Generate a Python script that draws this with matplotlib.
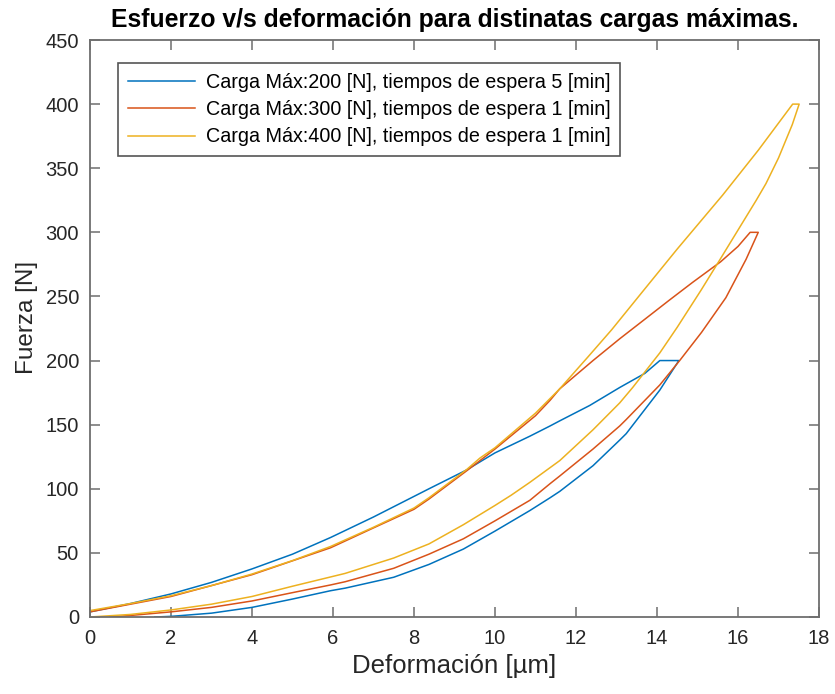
import matplotlib
matplotlib.use("Agg")
import matplotlib.pyplot as plt

# ---- data ----
x200 = [0, 1, 2, 3, 4, 5, 5.94, 7, 8.37, 9.3, 9.63, 10, 10.86, 11.36, 11.6, 12.34,
        13.08, 13.7, 14.07, 14.54,
        14.07, 13.24, 13.08, 12.42, 11.6, 11.36, 10.86, 10, 9.22, 8.37, 7.5, 6.3,
        5.94, 5, 4, 3, 2, 1.6]
f200 = [4, 10.5, 18, 27, 37.5, 49, 62, 78, 100, 114.7, 121, 128, 141, 149, 153, 165,
        179, 190, 200, 200,
        177, 143, 138, 118, 98, 93, 83, 67, 53, 41, 31, 22.5,
        20.5, 14, 7.5, 3, 0.5, 0]

x300 = [0, 2, 4, 5.94, 7, 8, 8.37, 9.3, 10, 11, 11.36, 11.6, 12.42, 13.08, 13.65, 14.3,
        14.88, 15.57, 16.0, 16.3, 16.5,
        16.2, 15.7, 15.1, 14.56, 14.07, 13.24, 13.08, 12.42, 11.6, 11.36, 10.86, 10,
        9.22, 8.37, 7.5, 6.3, 5.94, 5, 4, 3, 2, 1, 0.5]
f300 = [4, 16, 33, 54, 69.5, 84, 92, 114, 131, 157, 169, 178, 200, 217, 231, 247,
        261, 277, 289, 300, 300,
        279, 249, 222, 200, 181, 154, 149, 131, 110, 104, 91, 75,
        61, 49, 38, 27.5, 25, 19, 12.5, 7.5, 4, 1.2, 0]

x400 = [0, 1, 2, 3, 4, 5, 5.94, 7, 8, 8.37, 9.3, 9.63, 10, 11, 11.6, 12.3, 12.88,
        13.65, 14.5, 15.62, 16.5, 17.35, 17.51,
        17.34, 17.0, 16.69, 16.45, 15.54, 15.09, 14.5, 14.07, 13.4, 13.08, 12.42,
        11.6, 10.86, 10.4, 10, 9.22, 8.37, 7.5, 6.3, 5, 4, 3, 2, 1, 0]
f400 = [5, 10.5, 16.6, 24.5, 33.5, 44, 55, 70, 85, 93, 115, 124, 132, 159, 178,
        203, 224, 254, 287, 329, 364, 400, 400,
        384, 358, 338, 325, 278, 255, 226, 206, 179, 167, 146,
        122, 105, 95, 87, 72, 57, 46, 34, 24, 16, 10, 5.5, 2, 0]

labels = ["Carga Máx:200 [N], tiempos de espera 5 [min]",
          "Carga Máx:300 [N], tiempos de espera 1 [min]",
          "Carga Máx:400 [N], tiempos de espera 1 [min]"]
colors = ["#0072BD", "#D95319", "#EDB120"]

xticks = [0, 2, 4, 6, 8, 10, 12, 14, 16, 18]
yticks = [0, 50, 100, 150, 200, 250, 300, 350, 400, 450]

plt.rcParams['font.family'] = ['Liberation Sans', 'DejaVu Sans']

fig = plt.figure(figsize=(8.35, 6.94), dpi=100)
ax = fig.add_axes([90/835, 1-617/694, 729/835, 577/694])

for xs, fs, lab, c in zip([x200, x300, x400], [f200, f300, f400], labels, colors):
    ax.plot(xs, fs, color=c, lw=1.1, label=lab)

ax.set_xlim(0, 18)
ax.set_ylim(0, 450)
ax.set_xticks(xticks)
ax.set_yticks(yticks)
axc = "#262626"
for s in ax.spines.values():
    s.set_color("#6e6e6e")
    s.set_linewidth(1.3)
ax.tick_params(direction='in', length=7, width=1.1, color="#6e6e6e",
               top=True, right=True, labelsize=14.5, labelcolor=axc)
ax.tick_params(axis='x', pad=9)
ax.tick_params(axis='y', pad=8)

ax.set_xlabel("Deformación [µm]", fontsize=18.5, color=axc, labelpad=4)
ax.set_ylabel("Fuerza [N]", fontsize=17.5, color=axc)
ax.yaxis.set_label_coords(-0.072, 0.52)
ax.set_title("Esfuerzo v/s deformación para distinatas cargas máximas.",
             fontsize=17.8, fontweight='bold', color='black', pad=9)

leg = ax.legend(loc='upper left', bbox_to_anchor=(28/729, (617-63)/577),
                borderaxespad=0, fontsize=14.2, fancybox=False, framealpha=1,
                edgecolor="#555555", handlelength=3.4, handletextpad=0.55,
                labelspacing=0.42, borderpad=0.5)
leg.get_frame().set_linewidth(1.2)

fig.savefig("out.png", dpi=100, facecolor='white')
